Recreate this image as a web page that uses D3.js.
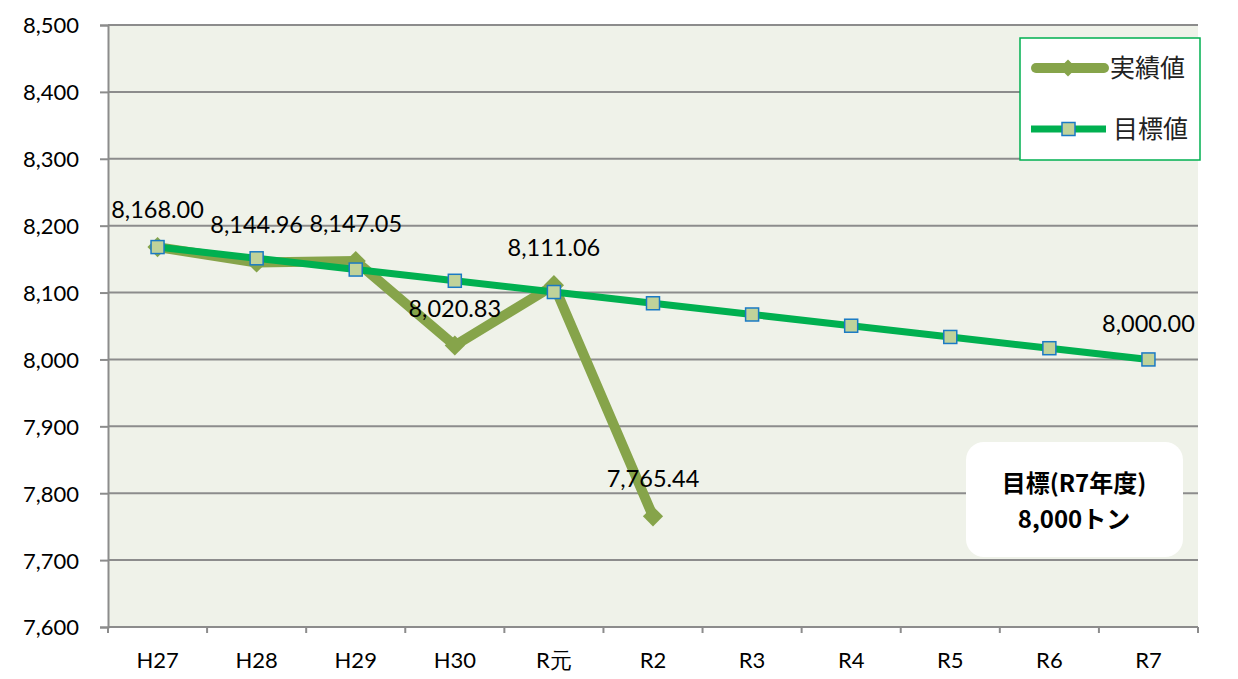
<!DOCTYPE html>
<meta charset="utf-8">
<style>
    body { margin: 0; background: #fff; }
    svg { display: block; }
    .tick text { font-family: Lato, "Open Sans", sans-serif; font-size: 22px; fill: #000; }
    .lbl { font-family: Lato, "Open Sans", sans-serif; font-size: 23.5px; fill: #000; text-anchor: middle; }
    .leg { font-family: "Noto Sans CJK JP", sans-serif; font-size: 25px; fill: #222; }
    .note { font-family: "Noto Sans CJK JP", sans-serif; font-size: 24px; font-weight: bold; fill: #000; text-anchor: middle; }
</style>
<body>
<div id="main"></div>
<script src="https://cdn.jsdelivr.net/npm/d3@7"></script>
<script>
var years = ["H27", "H28", "H29", "H30", "R元", "R2", "R3", "R4", "R5", "R6", "R7"];
var actual = [8168.00, 8144.96, 8147.05, 8020.83, 8111.06, 7765.44];
var target = [8168.0, 8151.2, 8134.4, 8117.6, 8100.8, 8084.0, 8067.2, 8050.4, 8033.6, 8016.8, 8000.0];
var yTicks = [7600, 7700, 7800, 7900, 8000, 8100, 8200, 8300, 8400, 8500];

var W = 1238, H = 679;
var margin = {top: 25, right: 40, bottom: 52, left: 108};
var width = W - margin.left - margin.right,
    height = H - margin.top - margin.bottom;

var svg = d3.select("#main").append("svg")
    .attr("width", W)
    .attr("height", H);

var g = svg.append("g")
    .attr("transform", "translate(" + margin.left + "," + margin.top + ")");

var x = d3.scaleBand().domain(years).range([0, width]).padding(0);
var y = d3.scaleLinear().domain([7600, 8500]).range([height, 0]);
var cx = function(d, i) { return x(years[i]) + x.bandwidth() / 2; };

// plot background
g.append("rect")
    .attr("width", width)
    .attr("height", height)
    .attr("fill", "#eff2e9");

// gridlines + y axis
var yAxis = d3.axisLeft(y).tickValues(yTicks).tickFormat(d3.format(",")).tickSize(8).tickPadding(21);
var ya = g.append("g").call(yAxis);
ya.select(".domain").attr("stroke", "#8c8c8c").attr("stroke-width", 2);
ya.selectAll(".tick line").attr("stroke", "#8c8c8c").attr("stroke-width", 2);
ya.selectAll(".tick text").attr("dy", "0.36em");

g.append("g").selectAll("line.grid")
    .data(yTicks)
    .enter().append("line")
    .attr("x1", 0).attr("x2", width)
    .attr("y1", function(d) { return y(d); })
    .attr("y2", function(d) { return y(d); })
    .attr("stroke", "#8c8c8c")
    .attr("stroke-width", 2);

// x axis
var xAxis = d3.axisBottom(x).tickSize(0).tickPadding(25);
var xa = g.append("g").attr("transform", "translate(0," + height + ")").call(xAxis);
xa.select(".domain").remove();
var edges = years.map(function(d) { return x(d); }).concat([width]);
xa.selectAll("line.edge")
    .data(edges)
    .enter().append("line")
    .attr("x1", function(d) { return d; })
    .attr("x2", function(d) { return d; })
    .attr("y1", 0).attr("y2", 6)
    .attr("stroke", "#8c8c8c")
    .attr("stroke-width", 2);
xa.append("line")
    .attr("x1", 0).attr("x2", width)
    .attr("stroke", "#8c8c8c")
    .attr("stroke-width", 2);

// actual series
var line = d3.line()
    .x(cx)
    .y(function(d) { return y(d); });

var olive = "#86a44a", green = "#00b050";

g.append("path")
    .datum(actual)
    .attr("fill", "none")
    .attr("stroke", olive)
    .attr("stroke-width", 10)
    .attr("stroke-linejoin", "round")
    .attr("d", line);

var diamond = d3.symbol().type(d3.symbolDiamond2).size(260);
g.selectAll("path.dia")
    .data(actual)
    .enter().append("path")
    .attr("transform", function(d, i) { return "translate(" + cx(d, i) + "," + y(d) + ")"; })
    .attr("d", diamond)
    .attr("fill", olive);

// target series
g.append("path")
    .datum(target)
    .attr("fill", "none")
    .attr("stroke", green)
    .attr("stroke-width", 7)
    .attr("d", line);

g.selectAll("rect.sq")
    .data(target)
    .enter().append("rect")
    .attr("x", function(d, i) { return cx(d, i) - 6.5; })
    .attr("y", function(d) { return y(d) - 6.5; })
    .attr("width", 13).attr("height", 13)
    .attr("fill", "#c0d29a")
    .attr("stroke", "#1a7ac4")
    .attr("stroke-width", 1.5);

// data labels
g.selectAll("text.lbl")
    .data(actual)
    .enter().append("text")
    .attr("class", "lbl")
    .attr("x", cx)
    .attr("y", function(d) { return y(d) - 29; })
    .text(d3.format(",.2f"));

var last = target.length - 1;
g.append("text")
    .attr("class", "lbl")
    .attr("x", cx(target[last], last))
    .attr("y", y(target[last]) - 27)
    .text(d3.format(",.2f")(target[last]));

// legend
var leg = svg.append("g").attr("transform", "translate(1020,38)");
leg.append("rect")
    .attr("width", 180).attr("height", 122)
    .attr("fill", "#fff")
    .attr("stroke", green)
    .attr("stroke-width", 1.5);
leg.append("line")
    .attr("x1", 16).attr("x2", 84).attr("y1", 30).attr("y2", 30)
    .attr("stroke", olive).attr("stroke-width", 10).attr("stroke-linecap", "round");
leg.append("path")
    .attr("transform", "translate(48,30)")
    .attr("d", d3.symbol().type(d3.symbolDiamond2).size(180))
    .attr("fill", olive);
leg.append("text").attr("class", "leg").attr("x", 90).attr("y", 39).text("実績値");
leg.append("line")
    .attr("x1", 11).attr("x2", 86).attr("y1", 91).attr("y2", 91)
    .attr("stroke", green).attr("stroke-width", 7);
leg.append("rect")
    .attr("x", 42).attr("y", 84.5).attr("width", 13).attr("height", 13)
    .attr("fill", "#c0d29a").attr("stroke", "#1a7ac4").attr("stroke-width", 1.5);
leg.append("text").attr("class", "leg").attr("x", 93).attr("y", 100).text("目標値");

// note box
var note = svg.append("g").attr("transform", "translate(966,442)");
note.append("rect")
    .attr("width", 217).attr("height", 115)
    .attr("rx", 18).attr("ry", 18)
    .attr("fill", "#fff");
note.append("text").attr("class", "note").attr("x", 108).attr("y", 50).text("目標(R7年度)");
note.append("text").attr("class", "note").attr("x", 108).attr("y", 86).text("8,000トン");
</script>
</body>
